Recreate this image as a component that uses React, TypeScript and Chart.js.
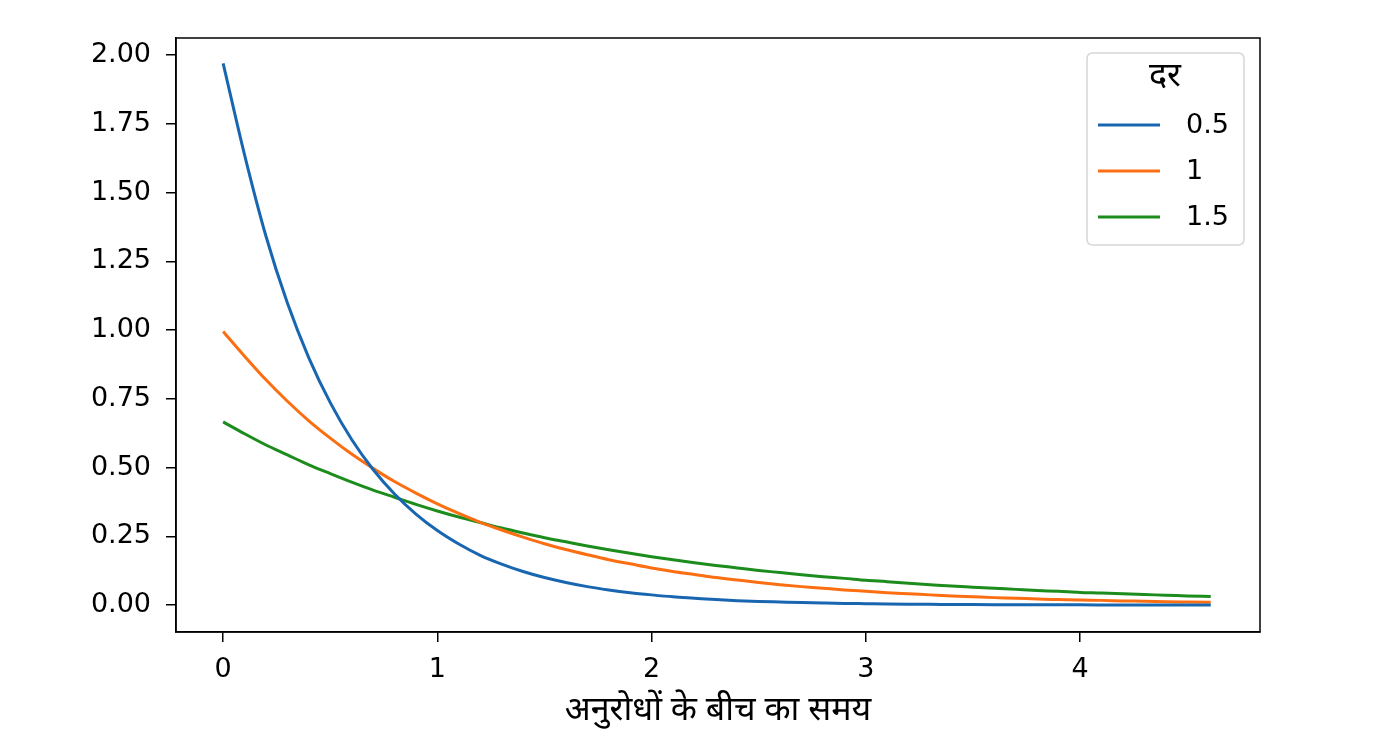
import React, { useEffect, useRef } from "react";
import { Chart, registerables } from "chart.js";

Chart.register(...registerables);

const xValues = [
  0, 0.1, 0.2, 0.3, 0.4, 0.5, 0.6, 0.7, 0.8, 0.9, 1.0, 1.1, 1.2, 1.3, 1.4, 1.5,
  1.6, 1.7, 1.8, 1.9, 2.0, 2.1, 2.2, 2.3, 2.4, 2.5, 2.6, 2.7, 2.8, 2.9, 3.0, 3.1,
  3.2, 3.3, 3.4, 3.5, 3.6, 3.7, 3.8, 3.9, 4.0, 4.1, 4.2, 4.3, 4.4, 4.5, 4.61,
];

const rate05 = [
  1.97, 1.637, 1.341, 1.098, 0.899, 0.736, 0.602, 0.493, 0.404, 0.331, 0.271,
  0.222, 0.181, 0.149, 0.122, 0.1, 0.082, 0.067, 0.055, 0.045, 0.037, 0.03,
  0.025, 0.02, 0.016, 0.013, 0.011, 0.009, 0.0074, 0.006, 0.005, 0.004, 0.0033,
  0.0027, 0.0022, 0.0018, 0.0015, 0.0012, 0.001, 0.0008, 0.0007, 0.0005, 0.0004,
  0.0004, 0.0003, 0.0002, 0.0002,
];

const rate1 = [
  0.995, 0.905, 0.819, 0.741, 0.67, 0.607, 0.549, 0.497, 0.449, 0.407, 0.368,
  0.333, 0.301, 0.273, 0.247, 0.223, 0.202, 0.183, 0.165, 0.15, 0.135, 0.122,
  0.111, 0.1, 0.091, 0.082, 0.074, 0.067, 0.061, 0.055, 0.05, 0.045, 0.041,
  0.037, 0.033, 0.03, 0.027, 0.025, 0.022, 0.02, 0.018, 0.017, 0.015, 0.014,
  0.012, 0.011, 0.01,
];

const rate15 = [
  0.666, 0.623, 0.582, 0.546, 0.51, 0.478, 0.447, 0.418, 0.392, 0.366, 0.342,
  0.32, 0.3, 0.28, 0.262, 0.245, 0.23, 0.215, 0.201, 0.188, 0.176, 0.165, 0.154,
  0.144, 0.135, 0.126, 0.118, 0.11, 0.103, 0.097, 0.09, 0.085, 0.079, 0.074,
  0.069, 0.065, 0.061, 0.057, 0.053, 0.05, 0.046, 0.044, 0.041, 0.038, 0.036,
  0.033, 0.031,
];

const seriesLabels = ["0.5", "1", "1.5"];
const seriesColors = ["#1866b0", "#fb6e12", "#1c8c1c"];
const xTickValues = [0, 1, 2, 3, 4];
const yTickValues = [0, 0.25, 0.5, 0.75, 1.0, 1.25, 1.5, 1.75, 2.0];
const legendTitle = "दर";
const xAxisTitle = "अनुरोधों के बीच का समय";

const TICK_FONT = "'DejaVu Sans', sans-serif";
const DEV_FONT = "'Noto Sans Devanagari', 'Lohit Devanagari', 'Noto Sans', 'Noto Sans CJK SC', sans-serif";

const framePlugin = {
  id: "frame",
  afterDraw(chart: any) {
    const { ctx, chartArea } = chart;
    ctx.save();
    ctx.strokeStyle = "#000";
    ctx.lineWidth = 1.5;
    ctx.strokeRect(chartArea.left, chartArea.top, chartArea.right - chartArea.left, chartArea.bottom - chartArea.top);
    ctx.restore();
  },
};

const legendPlugin = {
  id: "mplLegend",
  afterDraw(chart: any) {
    const { ctx } = chart;
    const left = 1087;
    const top = 53;
    const w = 157;
    const h = 192;
    const r = 6;
    ctx.save();
    ctx.beginPath();
    ctx.moveTo(left + r, top);
    ctx.lineTo(left + w - r, top);
    ctx.quadraticCurveTo(left + w, top, left + w, top + r);
    ctx.lineTo(left + w, top + h - r);
    ctx.quadraticCurveTo(left + w, top + h, left + w - r, top + h);
    ctx.lineTo(left + r, top + h);
    ctx.quadraticCurveTo(left, top + h, left, top + h - r);
    ctx.lineTo(left, top + r);
    ctx.quadraticCurveTo(left, top, left + r, top);
    ctx.closePath();
    ctx.fillStyle = "rgba(255,255,255,0.8)";
    ctx.fill();
    ctx.strokeStyle = "#d6d6d6";
    ctx.lineWidth = 1.5;
    ctx.stroke();

    ctx.fillStyle = "#000";
    ctx.textAlign = "center";
    ctx.textBaseline = "middle";
    ctx.font = `34px ${DEV_FONT}`;
    ctx.fillText(legendTitle, 1165, 80);

    ctx.font = `27px ${TICK_FONT}`;
    ctx.textAlign = "left";
    chart.data.datasets.forEach((ds: any, i: number) => {
      const y = 125 + i * 46;
      ctx.strokeStyle = ds.borderColor;
      ctx.lineWidth = 3;
      ctx.beginPath();
      ctx.moveTo(1098, y);
      ctx.lineTo(1160, y);
      ctx.stroke();
      ctx.fillStyle = "#000";
      ctx.fillText(ds.label, 1186, y + 1);
    });
    ctx.restore();
  },
};

export default function App() {
  const canvasRef = useRef<HTMLCanvasElement | null>(null);

  useEffect(() => {
    document.body.style.margin = "0";
    document.body.style.overflow = "hidden";
    const canvas = canvasRef.current;
    if (!canvas) return;
    const allSeries = [rate05, rate1, rate15];
    const chart = new Chart(canvas, {
      type: "line",
      data: {
        datasets: allSeries.map((vals, i) => ({
          label: seriesLabels[i],
          data: vals.map((v, j) => ({ x: xValues[j], y: v })),
          borderColor: seriesColors[i],
          backgroundColor: seriesColors[i],
          borderWidth: 3,
          pointRadius: 0,
          tension: 0.4,
          cubicInterpolationMode: "monotone" as const,
          fill: false,
        })),
      },
      options: {
        animation: false,
        responsive: false,
        devicePixelRatio: 1,
        layout: { padding: { left: 0, right: 139, top: 38, bottom: 0 } },
        plugins: {
          legend: { display: false },
          tooltip: { enabled: false },
        },
        scales: {
          x: {
            type: "linear",
            min: -0.22,
            max: 4.84,
            afterBuildTicks: (axis: any) => {
              axis.ticks = xTickValues.map((v) => ({ value: v }));
            },
            afterFit: (axis: any) => {
              axis.height = 120;
            },
            grid: { drawOnChartArea: false, drawTicks: true, tickLength: 10, color: "#000", lineWidth: 1.5 },
            border: { display: true, color: "#000", width: 1.5 },
            ticks: {
              color: "#000",
              font: { family: TICK_FONT, size: 27 },
              padding: 12,
              maxRotation: 0,
              callback: (v: any) => String(v),
            },
            title: {
              display: true,
              text: xAxisTitle,
              color: "#000",
              font: { family: DEV_FONT, size: 34 },
              padding: { top: 0, bottom: 18 },
            },
          },
          y: {
            type: "linear",
            min: -0.098,
            max: 2.062,
            afterBuildTicks: (axis: any) => {
              axis.ticks = yTickValues.map((v) => ({ value: v }));
            },
            afterFit: (axis: any) => {
              axis.width = 176;
            },
            grid: { drawOnChartArea: false, drawTicks: true, tickLength: 10, color: "#000", lineWidth: 1.5 },
            border: { display: true, color: "#000", width: 1.5 },
            ticks: {
              color: "#000",
              font: { family: TICK_FONT, size: 27 },
              padding: 15,
              callback: (v: any) => Number(v).toFixed(2),
            },
          },
        },
      },
      plugins: [framePlugin, legendPlugin],
    });
    return () => chart.destroy();
  }, []);

  return (
    <div style={{ width: 1399, height: 752, background: "#fff" }}>
      <canvas ref={canvasRef} width={1399} height={752} style={{ display: "block", width: 1399, height: 752 }} />
    </div>
  );
}
